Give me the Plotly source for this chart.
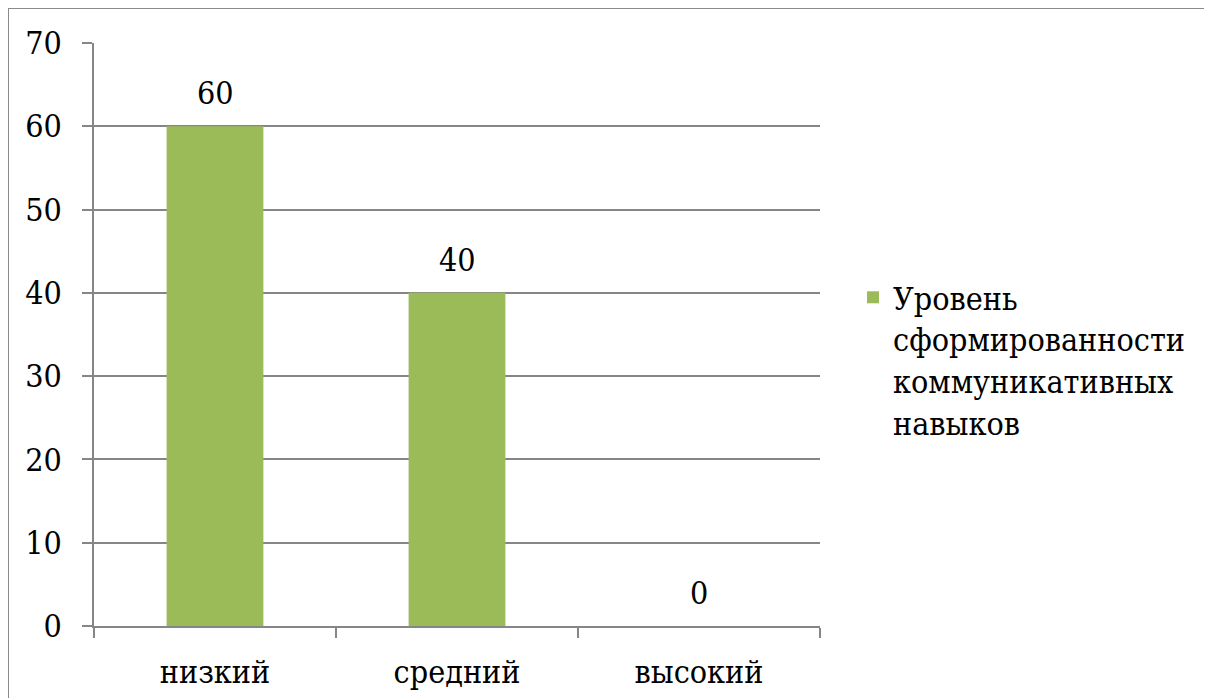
import plotly.graph_objects as go

categories = ["низкий", "средний", "высокий"]
values = [60, 40, 0]
series_name = "Уровень<br>сформированности<br>коммуникативных<br>навыков"
y_ticks = [0, 10, 20, 30, 40, 50, 60, 70]

# page body has an 8px margin, so the figure is drawn from (8, 8)
W, H = 1204, 690
L, T = 86, 35
R = W - 812
B = H - 618
pw, ph = W - L - R, H - T - B

FONT = "DejaVu Serif Condensed"
GRID = "#868686"

fig = go.Figure()
fig.add_trace(go.Bar(
    x=categories, y=values, name=series_name,
    marker=dict(color="#9BBB59", line=dict(width=0)),
))

for c, v in zip(categories, values):
    fig.add_annotation(
        x=c, y=v, text=str(v), showarrow=False,
        yanchor="bottom", yshift=12,
        font=dict(family=FONT, size=32, color="black"),
    )

fig.update_layout(
    width=W, height=H,
    margin=dict(l=L, r=R, t=T, b=B, pad=0),
    paper_bgcolor="white", plot_bgcolor="white",
    font=dict(family=FONT, size=32, color="black"),
    bargap=0.6,
    showlegend=True,
    legend=dict(
        x=(845 - L) / pw, xanchor="left",
        y=(T + ph - 262) / ph, yanchor="top",
        valign="top", bgcolor="rgba(0,0,0,0)",
        font=dict(family=FONT, size=32, color="black"),
        itemclick=False,
    ),
    xaxis=dict(
        type="category", tickson="boundaries", ticks="outside", ticklen=10,
        tickcolor=GRID, tickwidth=1.5, showline=True, linecolor=GRID, linewidth=1.5,
        showgrid=False, ticklabelstandoff=17, automargin=False,
        tickfont=dict(family=FONT, size=32, color="black"),
    ),
    yaxis=dict(
        range=[0, 70], tickvals=y_ticks, ticks="outside", ticklen=10,
        tickcolor=GRID, tickwidth=1.5, showline=True, linecolor=GRID, linewidth=1.5,
        showgrid=True, gridcolor=GRID, gridwidth=1.5, zeroline=False,
        ticklabelstandoff=14, automargin=False,
        tickfont=dict(family=FONT, size=32, color="black"),
    ),
    shapes=[dict(
        type="rect", xref="paper", yref="paper",
        x0=(0 - L) / pw, x1=(W + 20 - L) / pw,
        y0=-(B + 20) / ph, y1=(T + ph - 0) / ph,
        line=dict(color="#8a8a8a", width=2), fillcolor="rgba(0,0,0,0)",
        layer="below",
    )],
)

fig.write_html("out.html")
